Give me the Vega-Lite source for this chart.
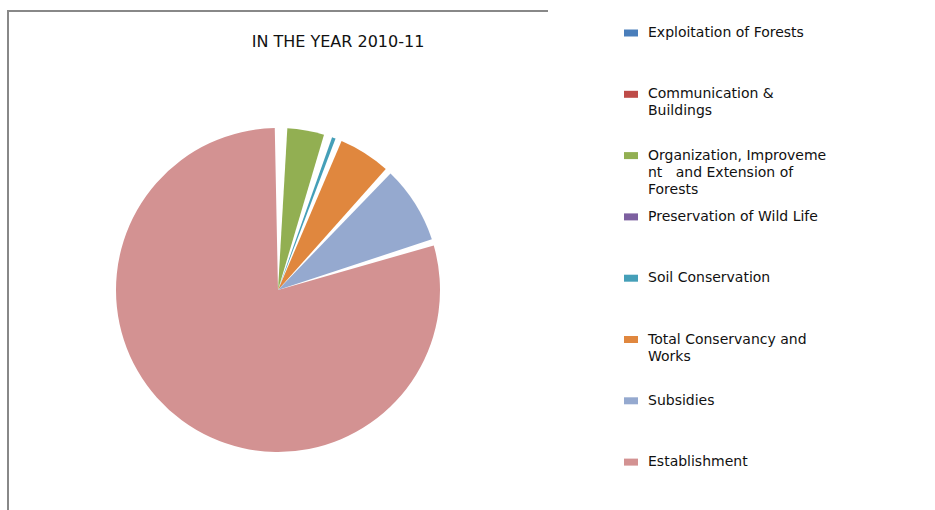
{
  "$schema": "https://vega.github.io/schema/vega-lite/v6.json",
  "autosize": {"type": "none"},
  "padding": {"left": 8, "top": 11, "right": 387, "bottom": 0},
  "width": 540,
  "height": 558,
  "background": "white",
  "title": {
    "text": "IN THE YEAR 2010-11",
    "frame": "group",
    "anchor": "middle",
    "orient": "top",
    "offset": 0,
    "baseline": "middle",
    "dx": 60,
    "dy": 47,
    "font": "DejaVu Sans",
    "fontSize": 16,
    "fontWeight": "normal",
    "color": "#111111"
  },
  "view": {"stroke": "#888888", "strokeWidth": 2, "strokeDash": [540, 1098, 558]},
  "data": {
    "values": [
      {"id": 1, "category": "Exploitation of Forests", "share": 0.45},
      {"id": 2, "category": "Communication & Buildings", "share": 0.15},
      {"id": 3, "category": "Organization, Improvement and Extension of Forests", "share": 4.3},
      {"id": 4, "category": "Preservation of Wild Life", "share": 0.2},
      {"id": 5, "category": "Soil Conservation", "share": 1.0},
      {"id": 6, "category": "Total Conservancy and Works", "share": 5.8},
      {"id": 7, "category": "Subsidies", "share": 8.35},
      {"id": 8, "category": "Establishment", "share": 79.75}
    ]
  },
  "mark": {"type": "arc", "outerRadius": 162, "padAngle": 0.04},
  "encoding": {
    "theta": {"field": "share", "type": "quantitative", "stack": true},
    "order": {"field": "id", "type": "quantitative"},
    "color": {
      "field": "category",
      "type": "nominal",
      "sort": null,
      "scale": {
        "domain": ["Exploitation of Forests", "Communication & Buildings", "Organization, Improvement and Extension of Forests", "Preservation of Wild Life", "Soil Conservation", "Total Conservancy and Works", "Subsidies", "Establishment"],
        "range": ["#4A7EBB", "#BE4B48", "#92AF52", "#7D60A0", "#459FB8", "#E0873E", "#95A9CF", "#D39292"]
      },
      "legend": {
        "orient": "none",
        "legendX": 616,
        "legendY": 15,
        "title": null,
        "padding": 0,
        "symbolType": "M-1,-0.5H1V0.5H-1Z",
        "symbolSize": 196,
        "symbolStrokeWidth": 0,
        "symbolOpacity": 1,
        "labelFont": "DejaVu Sans",
        "labelFontSize": 14,
        "labelColor": "#111111",
        "labelOffset": 10,
        "labelLimit": 400,
        "labelBaseline": "top",
        "rowPadding": 13.3,
        "gridAlign": "all",
        "labelExpr": "datum.label == 'Communication & Buildings' ? ['Communication &', 'Buildings'] : datum.label == 'Organization, Improvement and Extension of Forests' ? ['Organization, Improveme', 'nt \u00a0 and Extension of', 'Forests'] : datum.label == 'Total Conservancy and Works' ? ['Total Conservancy and', 'Works'] : datum.label",
        "encode": {
          "labels": {
            "update": {
              "lineHeight": {"value": 17},
              "dy": {"value": -7}
            }
          }
        }
      }
    }
  }
}
